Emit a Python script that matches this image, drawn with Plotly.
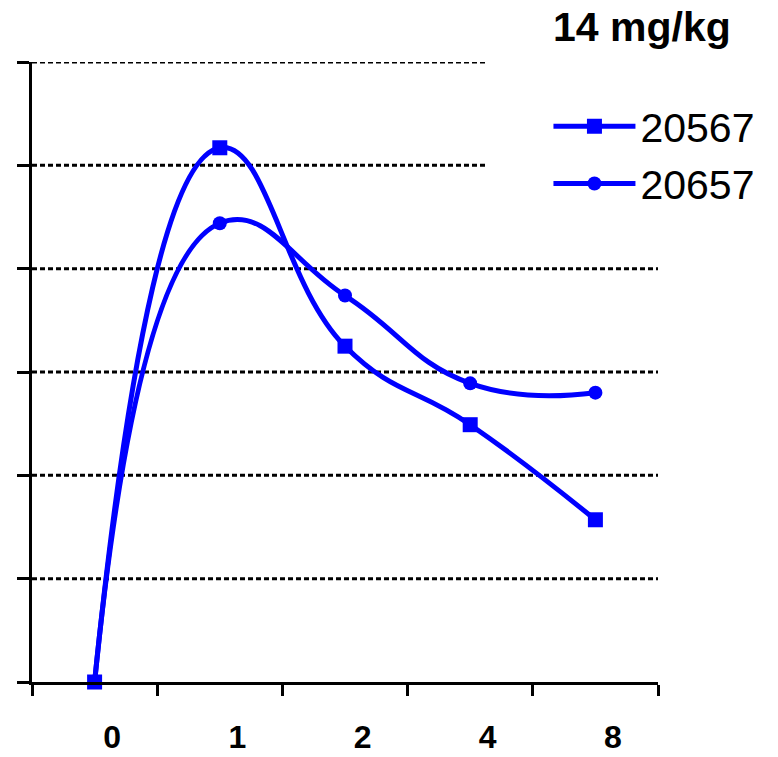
import plotly.graph_objects as go

categories = ["0", "1", "2", "4", "8"]
s1_name = "20567"
s1_values = [0.0, 5.17, 3.25, 2.49, 1.57]
s2_name = "20657"
s2_values = [0.0, 4.44, 3.74, 2.89, 2.80]
y_ticks = [0, 1, 2, 3, 4, 5, 6]
title_text = "14 mg/kg"

xpos = list(range(len(categories)))
blue = "#0000FF"

fig = go.Figure()
fig.add_trace(go.Scatter(
    x=xpos, y=s1_values, name=s1_name, mode="lines+markers",
    line=dict(color=blue, width=5, shape="spline", smoothing=1.3),
    marker=dict(symbol="square", size=15, color=blue),
    legendgroup="a", cliponaxis=False,
))
fig.add_trace(go.Scatter(
    x=xpos, y=s2_values, name=s2_name, mode="lines+markers",
    line=dict(color=blue, width=5, shape="spline", smoothing=1.3),
    marker=dict(symbol="circle", size=14, color=blue),
    legendgroup="b", cliponaxis=False,
))

# dotted gridlines
for yv in y_ticks[1:]:
    x_end = 3.13 if yv >= 5 else 4.52
    fig.add_shape(type="line", xref="x", yref="y", x0=-0.5, x1=x_end, y0=yv, y1=yv,
                  line=dict(color="black", width=3, dash="5px,3px"), layer="below")

fig.update_layout(
    width=778, height=757,
    margin=dict(l=32, r=120, t=62, b=75),
    paper_bgcolor="white", plot_bgcolor="white",
    font=dict(family="Arial, Liberation Sans, sans-serif", color="black"),
    title=dict(text="<b>" + title_text + "</b>", x=553 / 778, xanchor="left",
               y=1 - 27 / 757, yanchor="middle", font=dict(size=41, color="black")),
    showlegend=True,
    legend=dict(x=0.825, y=0.95, xanchor="left", yanchor="top",
                font=dict(size=41, color="black"), tracegroupgap=1,
                itemwidth=82, bgcolor="rgba(0,0,0,0)"),
    xaxis=dict(
        range=[-0.5, 4.5], tickmode="array", automargin=False,
        tickvals=[i + 0.14 for i in xpos], ticktext=["<b>" + c + "</b>" for c in categories],
        ticks="", showgrid=False, zeroline=False,
        showline=True, linecolor="black", linewidth=3,
        tickfont=dict(size=32, color="black"), ticklabelstandoff=25,
        minor=dict(tickmode="linear", tick0=-0.5, dtick=1, ticks="outside",
                   ticklen=11, tickwidth=3, tickcolor="black", showgrid=False),
    ),
    yaxis=dict(
        range=[0, 6], tickmode="array", tickvals=y_ticks, showticklabels=False,
        ticks="outside", ticklen=12, tickwidth=3, tickcolor="black",
        showgrid=False, zeroline=False, automargin=False,
        showline=True, linecolor="black", linewidth=3,
    ),
)

fig.write_html("out.html")
